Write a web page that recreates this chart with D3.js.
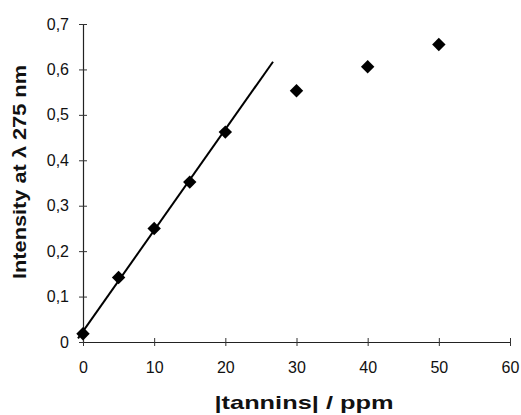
<!DOCTYPE html>
<html>
<head>
<meta charset="utf-8">
<script src="https://cdn.jsdelivr.net/npm/d3@7"></script>
<style>
  body { margin: 0; background: #fff; }
  svg { display: block; }
</style>
</head>
<body>
<div id="chart"></div>
<script>
// measured points (x in ppm, y in intensity)
var concentrations = [0, 5, 10, 15, 20, 30, 40, 50];
var intensities = [0.018, 0.142, 0.25, 0.352, 0.462, 0.553, 0.606, 0.655];
// fitted straight line, drawn between its two end points
var fitX = [-0.7, 26.7];
var fitY = [0.008, 0.617];
var xTicks = [0, 10, 20, 30, 40, 50, 60];
var yTicks = [0, 0.1, 0.2, 0.3, 0.4, 0.5, 0.6, 0.7];

var attrs = {
  width: 521,
  height: 415,
  marginLeft: 83,
  marginTop: 24,
  plotRight: 510,
  plotBottom: 342,
  font: 'Arial, "Liberation Sans", sans-serif'
};

var svg = d3.select('#chart').append('svg')
  .attr('width', attrs.width)
  .attr('height', attrs.height);

var x = d3.scaleLinear().domain([0, 60]).range([attrs.marginLeft, attrs.plotRight]);
var y = d3.scaleLinear().domain([0, 0.7]).range([attrs.plotBottom, attrs.marginTop]);

var commaFmt = function(d) {
  return d === 0 ? '0' : d3.format('.1f')(d).replace('.', ',');
};

// y axis
var yAxis = svg.append('g')
  .attr('transform', 'translate(' + attrs.marginLeft + ',0)')
  .call(d3.axisLeft(y).tickValues(yTicks).tickFormat(commaFmt).tickSize(4).tickSizeOuter(0));

yAxis.selectAll('.tick line').attr('x2', 4).attr('x1', -4);

// x axis
var xAxis = svg.append('g')
  .attr('transform', 'translate(0,' + attrs.plotBottom + ')')
  .call(d3.axisBottom(x).tickValues(xTicks).tickSize(4).tickSizeOuter(0));

xAxis.selectAll('.tick line').attr('y1', -4).attr('y2', 4);

svg.selectAll('.domain').attr('stroke', '#222').attr('stroke-width', 1.2);
svg.selectAll('.tick line').attr('stroke', '#333');

yAxis.selectAll('.tick text')
  .attr('x', -14)
  .attr('font-family', attrs.font)
  .attr('font-size', 16)
  .attr('fill', '#111');

xAxis.selectAll('.tick text')
  .attr('y', 20)
  .attr('dy', '0.71em')
  .attr('font-family', attrs.font)
  .attr('font-size', 16)
  .attr('fill', '#111');

// fit line
var fitData = fitX.map(function(d, i) { return { x: d, y: fitY[i] }; });
svg.append('path')
  .datum(fitData)
  .attr('fill', 'none')
  .attr('stroke', '#000')
  .attr('stroke-width', 2)
  .attr('d', d3.line().x(function(d) { return x(d.x); }).y(function(d) { return y(d.y); }));

// diamond markers
var diamond = d3.symbol().type(d3.symbolSquare).size(90);
svg.selectAll('.pt')
  .data(concentrations)
  .enter()
  .append('path')
  .attr('class', 'pt')
  .attr('d', diamond)
  .attr('fill', '#000')
  .attr('transform', function(d, i) {
    return 'translate(' + x(d) + ',' + y(intensities[i]) + ') rotate(45)';
  });

// axis titles
svg.append('text')
  .attr('x', 304)
  .attr('y', 409)
  .attr('text-anchor', 'middle')
  .attr('font-family', attrs.font)
  .attr('font-weight', 'bold')
  .attr('font-size', 19)
  .attr('textLength', 179)
  .attr('lengthAdjust', 'spacingAndGlyphs')
  .attr('fill', '#111')
  .text('|tannins| / ppm');

svg.append('text')
  .attr('transform', 'translate(26,172) rotate(-90)')
  .attr('text-anchor', 'middle')
  .attr('font-family', attrs.font)
  .attr('font-weight', 'bold')
  .attr('font-size', 19)
  .attr('textLength', 214)
  .attr('lengthAdjust', 'spacingAndGlyphs')
  .attr('fill', '#111')
  .text('Intensity at \u03bb 275 nm');
</script>
</body>
</html>
